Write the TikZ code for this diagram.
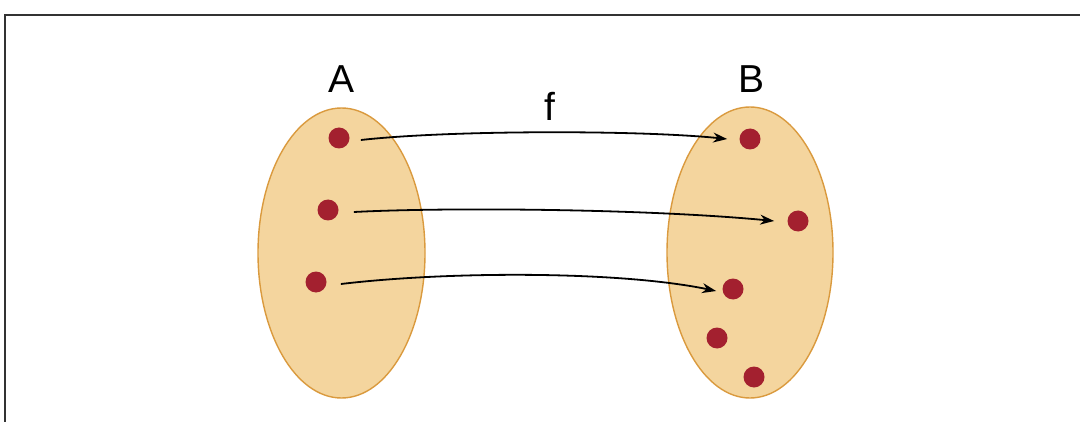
\documentclass[tikz,border=0pt]{standalone}
\usepackage{fontspec}
\setmainfont{Liberation Sans}
\usetikzlibrary{arrows.meta}
\definecolor{setfill}{HTML}{F4D59E}
\definecolor{setdraw}{HTML}{DA9A3E}
\definecolor{dotred}{HTML}{A3202F}
\definecolor{framec}{HTML}{333333}
\begin{document}
\begin{tikzpicture}[x=0.5pt,y=-0.5pt,
  setshape/.style={draw=setdraw,fill=setfill,line width=0.7pt},
  elem/.style={circle,fill=dotred,inner sep=0pt,minimum size=10.5pt},
  lbl/.style={font=\fontsize{19.5}{22}\selectfont,inner sep=0pt},
  maparrow/.style={line width=0.9pt,-{Stealth[length=7pt,width=5pt]}}]
\useasboundingbox (0,0) rectangle (1080,422);
\clip (0,0) rectangle (1080,422);
\draw[framec,line width=1.3pt] (5,500) -- (5,15) -- (1200,15);
% sets
\draw[setshape] (341.5,253) ellipse [x radius=83.5,y radius=145];
\draw[setshape] (750,252.5) ellipse [x radius=83,y radius=145.5];
% labels
\node[lbl] (labA) at (342,79) {A};
\node[lbl] (labB) at (751,79) {B};
\node[lbl] (labf) at (550,106) {f};
% elements
\node[elem] (a1) at (339,138) {};
\node[elem] (a2) at (328,210) {};
\node[elem] (a3) at (316,282) {};
\node[elem] (b1) at (750,139) {};
\node[elem] (b2) at (798,221) {};
\node[elem] (b3) at (733,289) {};
\node[elem] (b4) at (717,338) {};
\node[elem] (b5) at (754,377) {};
% mapping
\draw[maparrow] ([xshift=5.5pt,yshift=-1pt]a1.east) .. controls (450,130) and (640,130) .. ([xshift=-6pt]b1.west);
\draw[maparrow] ([xshift=7.5pt,yshift=-1pt]a2.east) .. controls (450,207) and (650,209) .. ([xshift=-6.5pt]b2.west);
\draw[maparrow] ([xshift=7pt,yshift=-1pt]a3.east) .. controls (450,271) and (620,271) .. ([xshift=-3pt,yshift=-1pt]b3.west);
\end{tikzpicture}
\end{document}
